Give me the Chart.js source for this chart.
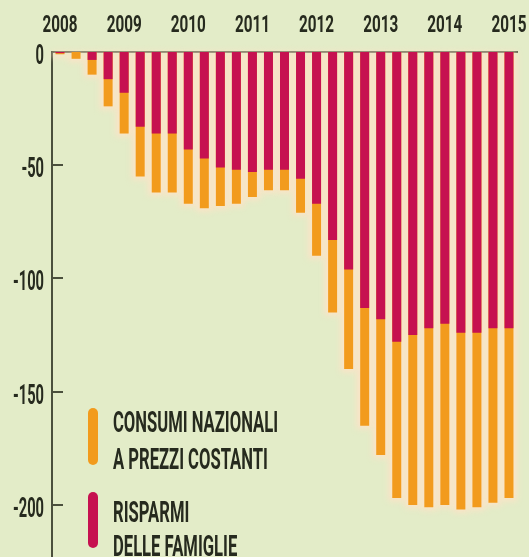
<!DOCTYPE html>
<html>
<head>
<meta charset="utf-8">
<script src="https://cdn.jsdelivr.net/npm/chart.js@4/dist/chart.umd.min.js"></script>
<style>
html, body { margin: 0; padding: 0; background: #e3ecc8; }
#wrap { width: 529px; height: 557px; position: relative; }
</style>
</head>
<body>
<div id="wrap"><canvas id="grafico"></canvas></div>
<script>
// trimestri dal 2008 al primo del 2015
const trimestri = [
  '2008 T1','2008 T2','2008 T3','2008 T4',
  '2009 T1','2009 T2','2009 T3','2009 T4',
  '2010 T1','2010 T2','2010 T3','2010 T4',
  '2011 T1','2011 T2','2011 T3','2011 T4',
  '2012 T1','2012 T2','2012 T3','2012 T4',
  '2013 T1','2013 T2','2013 T3','2013 T4',
  '2014 T1','2014 T2','2014 T3','2014 T4',
  '2015 T1'
];
const anni = ['2008','2009','2010','2011','2012','2013','2014','2015'];

// scarto cumulato, miliardi
const consumi = [-1, -3, -10, -24, -36, -55, -62, -62, -67, -69, -68, -67, -64, -61, -61, -71,
                 -90, -115, -140, -165, -178, -197, -200, -201, -200, -202, -201, -199, -197];
const risparmi = [-0.5, 0, -3.5, -12, -18, -33, -36, -36, -43, -47, -51, -52, -53, -52, -52, -56,
                  -67, -83, -96, -113, -118, -128, -125, -122, -120, -124, -124, -122, -122];

const voceConsumi = ['CONSUMI NAZIONALI', 'A PREZZI COSTANTI'];
const voceRisparmi = ['RISPARMI', 'DELLE FAMIGLIE'];

const arancio = '#f29b1d';
const cremisi = '#c61150';
const asse = '#4b503d';
const testo = '#262a1e';
const famiglia = "Roboto, 'DejaVu Sans Condensed', sans-serif";

// scrive un testo schiacciato in orizzontale
function stretto(ctx, s, x, y, sx, align) {
  ctx.save();
  ctx.translate(x, y);
  ctx.scale(sx, 1);
  ctx.textAlign = align;
  ctx.fillText(s, 0, 0);
  ctx.restore();
}

// alone chiaro dietro le barre
const alone = {
  id: 'alone',
  beforeDatasetsDraw(chart) {
    const ctx = chart.ctx;
    const xs = chart.scales.x;
    const w = xs.getPixelForValue(1) - xs.getPixelForValue(0);
    ctx.save();
    ctx.filter = 'blur(3px)';
    ctx.fillStyle = 'rgba(252,227,198,1)';
    chart.getDatasetMeta(1).data.forEach(function(el) {
      ctx.fillRect(el.x - w / 2, el.base, w, el.y - el.base + 3);
    });
    ctx.restore();
  }
};

// etichette e tacche degli assi
const assi = {
  id: 'assi',
  afterDraw(chart) {
    const ctx = chart.ctx;
    const xs = chart.scales.x;
    const ys = chart.scales.y;
    const left = chart.chartArea.left;
    ctx.save();
    ctx.strokeStyle = asse;
    ctx.lineWidth = 2;
    ctx.fillStyle = testo;
    ctx.textBaseline = 'alphabetic';

    ctx.font = 'bold 24px ' + famiglia;
    const sxX = 35 / ctx.measureText('2008').width;
    xs.ticks.forEach(function(t, i) {
      if (!t.label) return;
      stretto(ctx, t.label, xs.getPixelForTick(i), 32, sxX, 'center');
    });

    ctx.font = 'bold 27px ' + famiglia;
    const sxY = 31 / ctx.measureText('-200').width;
    ys.ticks.forEach(function(t, i) {
      const y = Math.round(ys.getPixelForTick(i));
      stretto(ctx, t.label, 44, y + 12, sxY, 'right');
      if (t.value === 0) return;
      ctx.beginPath();
      ctx.moveTo(left, y);
      ctx.lineTo(left + 11, y);
      ctx.stroke();
    });
    ctx.restore();
  }
};

// legenda su due righe dentro l'area del grafico
const legenda = {
  id: 'legenda',
  afterDraw(chart) {
    const ctx = chart.ctx;
    ctx.save();
    ctx.font = 'bold 30px ' + famiglia;
    const sx = 165 / ctx.measureText(voceConsumi[0]).width;
    const voci = [
      { righe: voceConsumi, colore: arancio, y0: 413, y1: 460, base: [432, 469] },
      { righe: voceRisparmi, colore: cremisi, y0: 497, y1: 543, base: [522, 556] }
    ];
    voci.forEach(function(v) {
      ctx.strokeStyle = v.colore;
      ctx.lineWidth = 10;
      ctx.lineCap = 'round';
      ctx.beginPath();
      ctx.moveTo(93, v.y0);
      ctx.lineTo(93, v.y1);
      ctx.stroke();
      ctx.fillStyle = testo;
      v.righe.forEach(function(r, i) {
        stretto(ctx, r, 113, v.base[i], sx, 'left');
      });
    });
    ctx.restore();
  }
};

function senzaMargini(s) {
  s.paddingLeft = 0;
  s.paddingRight = 0;
  s.paddingTop = 0;
  s.paddingBottom = 0;
}

new Chart(document.getElementById('grafico'), {
  type: 'bar',
  data: {
    labels: trimestri,
    datasets: [
      {
        label: voceRisparmi.join(' '),
        data: risparmi,
        backgroundColor: cremisi,
        grouped: false,
        order: 0,
        barPercentage: 0.56,
        categoryPercentage: 1
      },
      {
        label: voceConsumi.join(' '),
        data: consumi,
        backgroundColor: arancio,
        grouped: false,
        order: 1,
        barPercentage: 0.56,
        categoryPercentage: 1
      }
    ]
  },
  options: {
    responsive: true,
    maintainAspectRatio: false,
    animation: false,
    layout: { padding: { top: 0, left: 0, right: 12, bottom: 0 } },
    plugins: {
      legend: { display: false },
      tooltip: { enabled: false }
    },
    scales: {
      x: {
        position: 'top',
        offset: true,
        grid: { display: false, drawTicks: false },
        border: { display: true, color: asse, width: 2 },
        ticks: {
          display: false,
          autoSkip: false,
          maxRotation: 0,
          callback: function(v, i) {
            return i % 4 === 0 ? anni[i / 4] : '';
          }
        },
        afterFit: function(s) { s.height = 52; senzaMargini(s); }
      },
      y: {
        min: -223,
        max: 0,
        grid: { display: false, drawTicks: false },
        border: { display: true, color: asse, width: 2 },
        ticks: {
          display: false,
          stepSize: 50,
          callback: function(v) { return String(v); }
        },
        afterBuildTicks: function(s) {
          s.ticks = s.ticks.filter(function(t) { return t.value % 50 === 0; });
        },
        afterFit: function(s) { s.width = 52; senzaMargini(s); }
      }
    }
  },
  plugins: [alone, assi, legenda]
});
</script>
</body>
</html>
